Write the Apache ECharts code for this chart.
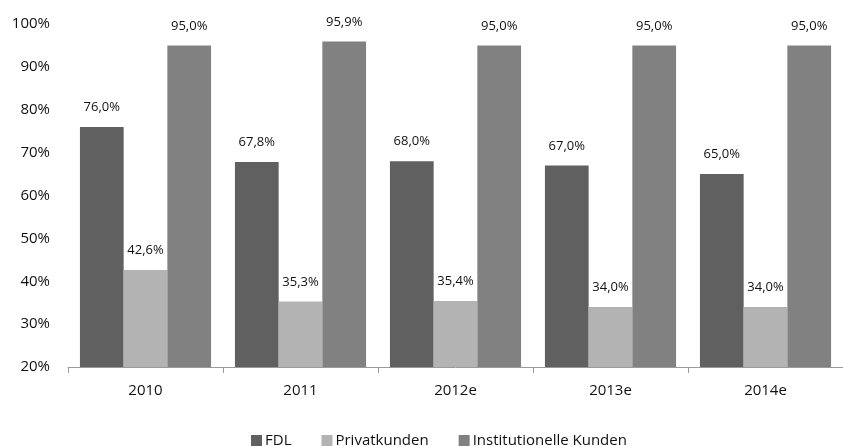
<!DOCTYPE html>
<html><head><meta charset="utf-8">
<script src="https://cdn.jsdelivr.net/npm/echarts@6/dist/echarts.min.js"></script>
<style>html,body{margin:0;padding:0;background:#fff}#c{width:843px;height:446px}</style>
</head><body><div id="c"></div>
<script>
var categories = ['2010', '2011', '2012e', '2013e', '2014e'];
var fdl = [76.0, 67.8, 68.0, 67.0, 65.0];
var privatkunden = [42.6, 35.3, 35.4, 34.0, 34.0];
var institutionelle = [95.0, 95.9, 95.0, 95.0, 95.0];
var seriesNames = ['FDL', 'Privatkunden', 'Institutionelle Kunden'];
var colors = ['#606060', '#b3b3b3', '#818181'];

var font = '"Open Sans", "Liberation Sans", sans-serif';
function fmt(v) { return v.toFixed(1).replace('.', ',') + '%'; }
var label = {
  show: true, position: 'top', distance: 13, color: '#111', fontSize: 13, fontFamily: font,
  formatter: function (p) { return fmt(p.value); }
};
var chart = echarts.init(document.getElementById('c'));
chart.setOption({
  animation: false,
  color: colors,
  grid: { left: 68, top: 24, width: 780, height: 343 },
  legend: {
    top: 428, left: 246, itemWidth: 11, itemHeight: 11, itemGap: 30, icon: 'rect',
    textStyle: { fontSize: 15, color: '#111', fontFamily: font, padding: [0, 0, 0, -2] },
    data: seriesNames
  },
  xAxis: {
    type: 'category', data: categories,
    axisLine: { lineStyle: { color: '#9a9a9a', width: 1 } },
    axisTick: { show: true, length: 6, lineStyle: { color: '#9a9a9a' } },
    axisLabel: { fontSize: 15, color: '#111', fontFamily: font, margin: 16 }
  },
  yAxis: {
    type: 'value', min: 20, max: 100, interval: 10,
    axisLine: { show: false }, axisTick: { show: false },
    splitLine: { show: false },
    axisLabel: { fontSize: 15, color: '#111', fontFamily: font, margin: 18, formatter: '{value}%' }
  },
  series: [
    { name: seriesNames[0], type: 'bar', data: fdl, barGap: '0%', barCategoryGap: '15.4%', label: label },
    { name: seriesNames[1], type: 'bar', data: privatkunden, barGap: '0%', barCategoryGap: '15.4%', label: label },
    { name: seriesNames[2], type: 'bar', data: institutionelle, barGap: '0%', barCategoryGap: '15.4%', label: label }
  ]
});
</script></body></html>
